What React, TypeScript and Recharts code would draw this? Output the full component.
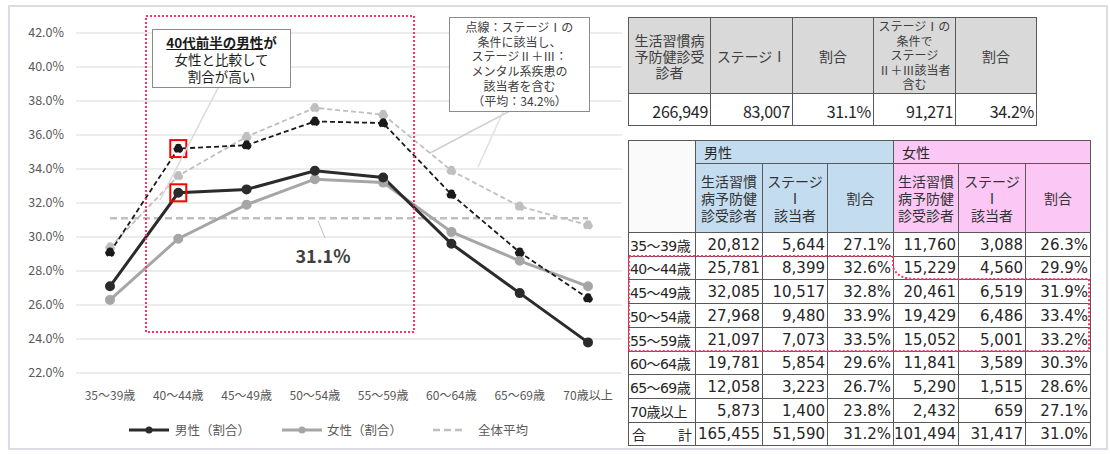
import React from 'react';
import { LineChart, Line, XAxis, YAxis, CartesianGrid, ReferenceDot } from 'recharts';

// ---------- data ----------
const ageGroups = ['35～39歳', '40～44歳', '45～49歳', '50～54歳', '55～59歳', '60～64歳', '65～69歳', '70歳以上'];
const maleRate = [27.1, 32.6, 32.8, 33.9, 33.5, 29.6, 26.7, 23.8];
const femaleRate = [26.3, 29.9, 31.9, 33.4, 33.2, 30.3, 28.6, 27.1];
const maleRateWithMental = [29.1, 35.2, 35.4, 36.8, 36.7, 32.5, 29.1, 26.4];
const femaleRateWithMental = [29.4, 33.6, 35.9, 37.6, 37.2, 33.9, 31.8, 30.7];
const overallAverage = 31.1;
const yTicks = [22, 24, 26, 28, 30, 32, 34, 36, 38, 40, 42];

const maleExaminees = [20812, 25781, 32085, 27968, 21097, 19781, 12058, 5873];
const maleStage1 = [5644, 8399, 10517, 9480, 7073, 5854, 3223, 1400];
const femaleExaminees = [11760, 15229, 20461, 19429, 15052, 11841, 5290, 2432];
const femaleStage1 = [3088, 4560, 6519, 6486, 5001, 3589, 1515, 659];
const maleTotals = [165455, 51590, 31.2];
const femaleTotals = [101494, 31417, 31.0];

const summaryHeaders = [
  ['生活習慣病', '予防健診受', '診者'],
  ['ステージⅠ'],
  ['割合'],
  ['ステージⅠの', '条件で', 'ステージ', 'Ⅱ＋Ⅲ該当者', '含む'],
  ['割合'],
];
const summaryValues = [266949, 83007, 31.1, 91271, 34.2];
const summaryIsRate = [false, false, true, false, true];

const subHeaders = [
  ['生活習慣', '病予防健', '診受診者'],
  ['ステージ', 'Ⅰ', '該当者'],
  ['割合'],
];

const chartData = ageGroups.map((age, i) => ({
  age,
  male: maleRate[i],
  female: femaleRate[i],
  maleM: maleRateWithMental[i],
  femaleM: femaleRateWithMental[i],
  avg: overallAverage,
}));

// ---------- styles ----------
const JP = '"Noto Sans CJK JP", "Noto Sans", sans-serif';
const NUM = '"DejaVu Sans", "Noto Sans CJK JP", sans-serif';
const LINE = '#595959';

const fmtInt = (v: number) => v.toLocaleString('en-US');
const fmtPct = (v: number) => v.toFixed(1) + '%';

type CellProps = {
  x1: number; x2: number; y1: number; y2: number;
  bg?: string; children?: React.ReactNode; style?: React.CSSProperties;
  align?: 'left' | 'right' | 'center';
};
const Cell = ({ x1, x2, y1, y2, bg, children, style, align = 'right' }: CellProps) => (
  <div
    style={{
      position: 'absolute', left: x1, top: y1, width: x2 - x1 + 1, height: y2 - y1 + 1,
      boxSizing: 'border-box', border: `1px solid ${LINE}`, background: bg || '#fff',
      display: 'flex', flexDirection: 'column', justifyContent: 'center',
      alignItems: align === 'left' ? 'flex-start' : align === 'right' ? 'flex-end' : 'center',
      textAlign: align, overflow: 'visible', whiteSpace: 'nowrap', color: '#262626',
      ...style,
    }}
  >
    {children}
  </div>
);

const RedSquare = (props: any) => {
  const { cx, cy } = props;
  if (cx == null || cy == null) return null;
  return <rect x={cx - 8} y={cy - 8.5} width={16} height={17} fill="none" stroke="#ff0000" strokeWidth={2} />;
};

export default function App() {
  // table 1 layout
  const t1x = [628, 710, 792, 873, 955, 1036];
  const t1y = [17, 93, 125];
  // table 2 layout
  const t2x = [628, 695, 762, 827, 893, 958, 1025, 1090];
  const t2h = [140, 163, 232];
  const rowH = 23.7;
  const rowY = (i: number) => Math.round(232 + rowH * i);

  return (
    <div style={{ position: 'fixed', left: 0, top: 0, width: 1110, height: 454, background: '#fff', overflow: 'hidden', fontFamily: JP }}>
      {/* outer frame */}
      <div style={{ position: 'absolute', left: 8, top: 5, width: 1100, height: 445, border: '2px solid #dcdce6', boxSizing: 'border-box' }} />

      {/* chart */}
      <div style={{ position: 'absolute', left: 0, top: 0 }}>
        <LineChart width={630} height={454} data={chartData} margin={{ top: 33, right: 8, bottom: 51, left: 16 }}>
          <CartesianGrid horizontal vertical={false} stroke="#d9d9d9" strokeWidth={1} />
          <XAxis
            dataKey="age"
            axisLine={false}
            tickLine={false}
            interval={0}
            tickMargin={12}
            padding={{ left: 34, right: 34 }}
            tick={{ fontSize: 12, fill: '#595959', fontFamily: JP }}
          />
          <YAxis
            domain={[22, 42]}
            ticks={yTicks}
            width={60}
            axisLine={false}
            tickLine={false}
            tickMargin={6}
            tickFormatter={(v: number) => v.toFixed(1) + '%'}
            tick={{ fontSize: 12.5, fill: '#595959', fontFamily: JP }}
          />
          <Line dataKey="femaleM" stroke="#bfbfbf" strokeWidth={1.8} strokeDasharray="5 3"
            dot={{ r: 4, fill: '#bfbfbf', stroke: '#bfbfbf' }} isAnimationActive={false} />
          <Line dataKey="avg" stroke="#bfbfbf" strokeWidth={2.5} strokeDasharray="7 4" dot={false} isAnimationActive={false} />
          <Line dataKey="female" stroke="#a6a6a6" strokeWidth={3}
            dot={{ r: 3.5, fill: '#a6a6a6', stroke: '#a6a6a6' }} isAnimationActive={false} />
          <Line dataKey="maleM" stroke="#1a1a1a" strokeWidth={1.8} strokeDasharray="5 3"
            dot={{ r: 4, fill: '#1a1a1a', stroke: '#1a1a1a' }} isAnimationActive={false} />
          <Line dataKey="male" stroke="#2b2b2b" strokeWidth={3}
            dot={{ r: 3.5, fill: '#2b2b2b', stroke: '#2b2b2b' }} isAnimationActive={false} />
          <ReferenceDot x={ageGroups[1]} y={maleRateWithMental[1]} shape={RedSquare} ifOverflow="visible" />
          <ReferenceDot x={ageGroups[1]} y={maleRate[1]} shape={RedSquare} ifOverflow="visible" />
        </LineChart>
      </div>

      {/* decorative overlay lines */}
      <svg width={1110} height={454} style={{ position: 'absolute', left: 0, top: 0, pointerEvents: 'none' }}>
        <line x1={218} y1={88} x2={160} y2={200} stroke="#dadada" strokeWidth={1.5} />
        <line x1={510} y1={111} x2={430} y2={153} stroke="#cfcfcf" strokeWidth={1.5} />
        <line x1={503} y1={112} x2={478} y2={167} stroke="#e0e0e0" strokeWidth={1.5} />
        <line x1={318} y1={221} x2={325} y2={238} stroke="#bfbfbf" strokeWidth={1} />
        <rect x={146} y={16} width={268} height={316} fill="none" stroke="#ff3366" strokeWidth={2} strokeDasharray="2 2" />
      </svg>

      {/* annotation 1 */}
      <div style={{ position: 'absolute', left: 152, top: 29, width: 139, height: 59, boxSizing: 'border-box', border: '1px solid #8c8c8c', background: '#fff', textAlign: 'center', fontSize: 13.5, lineHeight: '17px', color: '#1a1a1a', paddingTop: 4 }}>
        <div style={{ fontWeight: 700 }}><span style={{ textDecoration: 'underline' }}>40代前半の男性</span>が</div>
        <div>女性と比較して</div>
        <div>割合が高い</div>
      </div>

      {/* annotation 2 */}
      <div style={{ position: 'absolute', left: 449, top: 17, width: 141, height: 95, boxSizing: 'border-box', border: '1px solid #8c8c8c', background: '#fff', textAlign: 'center', fontSize: 12, lineHeight: '14.7px', color: '#404040', paddingTop: 2 }}>
        <div>点線：ステージⅠの</div>
        <div>条件に該当し、</div>
        <div>ステージⅡ＋Ⅲ：</div>
        <div>メンタル系疾患の</div>
        <div>該当者を含む</div>
        <div>（平均：34.2%）</div>
      </div>

      {/* average label */}
      <div style={{ position: 'absolute', left: 283, top: 242, width: 80, textAlign: 'center', fontSize: 18, fontWeight: 700, color: '#404040', lineHeight: '26px' }}>
        {fmtPct(overallAverage)}
      </div>

      {/* legend */}
      <svg width={630} height={30} style={{ position: 'absolute', left: 0, top: 416 }}>
        <line x1={129} y1={14} x2={169} y2={14} stroke="#2b2b2b" strokeWidth={3} />
        <circle cx={149} cy={14} r={3.5} fill="#2b2b2b" />
        <text x={175} y={18.5} fontSize={12.5} fill="#595959" fontFamily={JP}>男性（割合）</text>
        <line x1={282} y1={14} x2={322} y2={14} stroke="#a6a6a6" strokeWidth={3} />
        <circle cx={302} cy={14} r={3.5} fill="#a6a6a6" />
        <text x={327} y={18.5} fontSize={12.5} fill="#595959" fontFamily={JP}>女性（割合）</text>
        <line x1={433} y1={14} x2={466} y2={14} stroke="#bfbfbf" strokeWidth={2.5} strokeDasharray="7 4" />
        <text x={478} y={18.5} fontSize={12.5} fill="#595959" fontFamily={JP}>全体平均</text>
      </svg>

      {/* table 1 */}
      {summaryHeaders.map((lines, c) => (
        <Cell key={'h1' + c} x1={t1x[c]} x2={t1x[c + 1]} y1={t1y[0]} y2={t1y[1]} bg="#d9d9d9" align="center"
          style={{ fontSize: c === 3 ? 12 : 14, lineHeight: c === 3 ? '14.5px' : '16px', color: '#404040' }}>
          {lines.map((l, k) => <div key={k}>{l}</div>)}
        </Cell>
      ))}
      {summaryValues.map((v, c) => (
        <Cell key={'v1' + c} x1={t1x[c]} x2={t1x[c + 1]} y1={t1y[1]} y2={t1y[2]}
          style={{ fontSize: 16, letterSpacing: -0.3, paddingRight: 2, paddingTop: 3 }}>
          {summaryIsRate[c] ? fmtPct(v) : fmtInt(v)}
        </Cell>
      ))}

      {/* table 2 header */}
      <Cell x1={t2x[0]} x2={t2x[1]} y1={t2h[0]} y2={t2h[2]} bg="#fafafa" />
      <Cell x1={t2x[1]} x2={t2x[4]} y1={t2h[0]} y2={t2h[1]} bg="#c3dcf0" align="left" style={{ fontSize: 14, paddingLeft: 8 }}>男性</Cell>
      <Cell x1={t2x[4]} x2={t2x[7]} y1={t2h[0]} y2={t2h[1]} bg="#fbc8f6" align="left" style={{ fontSize: 14, paddingLeft: 8 }}>女性</Cell>
      {[0, 1].map((g) =>
        subHeaders.map((lines, k) => {
          const c = 1 + g * 3 + k;
          return (
            <Cell key={'sh' + c} x1={t2x[c]} x2={t2x[c + 1]} y1={t2h[1]} y2={t2h[2]} bg={g === 0 ? '#c3dcf0' : '#fbc8f6'} align="center"
              style={{ fontSize: 14, lineHeight: '17px', color: '#333' }}>
              {lines.map((l, j) => <div key={j}>{l}</div>)}
            </Cell>
          );
        })
      )}

      {/* table 2 rows */}
      {ageGroups.map((age, i) => {
        const vals = [fmtInt(maleExaminees[i]), fmtInt(maleStage1[i]), fmtPct(maleRate[i]), fmtInt(femaleExaminees[i]), fmtInt(femaleStage1[i]), fmtPct(femaleRate[i])];
        return (
          <React.Fragment key={age}>
            <Cell x1={t2x[0]} x2={t2x[1]} y1={rowY(i)} y2={rowY(i + 1)} align="left" style={{ fontSize: 14, fontFamily: NUM, letterSpacing: -0.6, paddingLeft: 1 }}>{age}</Cell>
            {vals.map((v, c) => (
              <Cell key={c} x1={t2x[c + 1]} x2={t2x[c + 2]} y1={rowY(i)} y2={rowY(i + 1)} style={{ fontSize: 15, fontFamily: NUM, paddingRight: 2 }}>{v}</Cell>
            ))}
          </React.Fragment>
        );
      })}
      {(() => {
        const i = ageGroups.length;
        const vals = [fmtInt(maleTotals[0]), fmtInt(maleTotals[1]), fmtPct(maleTotals[2]), fmtInt(femaleTotals[0]), fmtInt(femaleTotals[1]), fmtPct(femaleTotals[2])];
        return (
          <>
            <Cell x1={t2x[0]} x2={t2x[1]} y1={rowY(i)} y2={rowY(i + 1)} align="left" style={{ fontSize: 14, paddingLeft: 3, paddingRight: 3 }}>
              <div style={{ display: 'flex', justifyContent: 'space-between', width: '100%' }}><span>合</span><span>計</span></div>
            </Cell>
            {vals.map((v, c) => (
              <Cell key={'t' + c} x1={t2x[c + 1]} x2={t2x[c + 2]} y1={rowY(i)} y2={rowY(i + 1)} style={{ fontSize: 15, fontFamily: NUM, paddingRight: 2 }}>{v}</Cell>
            ))}
          </>
        );
      })()}

      {/* dotted highlight in table 2 */}
      <svg width={1110} height={454} style={{ position: 'absolute', left: 0, top: 0, pointerEvents: 'none' }}>
        <path
          d={`M 629 ${rowY(1)} H 893 V ${rowY(1) + 11} Q 897 ${rowY(2)} 916 ${rowY(2)} H 1089 V ${rowY(5)} H 629 Z`}
          fill="none" stroke="#ff3366" strokeWidth={2} strokeDasharray="2 2"
        />
      </svg>
    </div>
  );
}
